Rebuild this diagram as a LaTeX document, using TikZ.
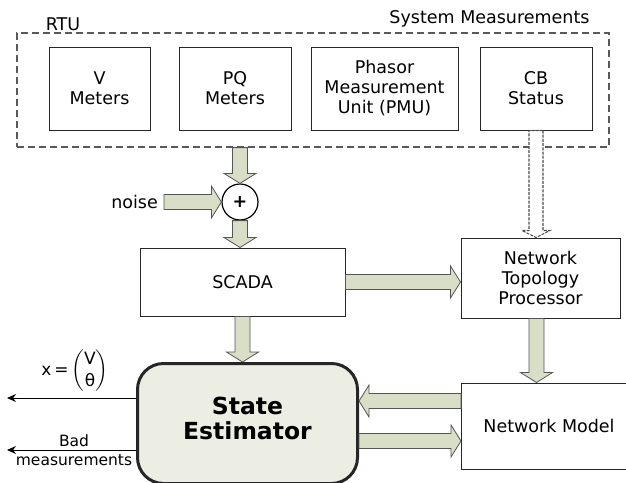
\documentclass[tikz,border=0pt]{standalone}
\usepackage{fontspec}
\usepackage{amsmath}
\setmainfont{DejaVu Sans}
\usetikzlibrary{calc,arrows.meta}
\definecolor{arrfill}{HTML}{D9DEC6}
\definecolor{arrline}{HTML}{555555}
\definecolor{sefill}{HTML}{EDEEE3}
\newcommand{\fatsw}{7.5pt}
\newcommand{\fathw}{16pt}
\newcommand{\fathl}{10pt}
\tikzset{
  box/.style={draw=black!85, line width=1pt, align=center, inner sep=0pt},
  fat/.style={draw=arrline, fill=arrfill, line width=0.8pt,
    to path={let \p3=($(\tikztotarget)!\fathl!(\tikztostart)$) in
      ($(\tikztostart)!\fatsw!90:(\tikztotarget)$) -- ($(\p3)!\fatsw!-90:(\tikztostart)$)
      -- ($(\p3)!\fathw!-90:(\tikztostart)$) -- (\tikztotarget)
      -- ($(\p3)!\fathw!90:(\tikztostart)$) -- ($(\p3)!\fatsw!90:(\tikztostart)$)
      -- ($(\tikztostart)!\fatsw!-90:(\tikztotarget)$) -- cycle}},
  hollow/.style={fat, draw=black!70, line width=1.1pt, fill=white, dash pattern=on 3pt off 1.2pt,
    /utils/exec={\def\fatsw{7pt}\def\fathw{14pt}\def\fathl{7pt}}},
  thin/.style={draw=black, line width=0.9pt, -{Stealth[length=9pt,width=8pt]}},
}
\begin{document}
\begin{tikzpicture}[x=1pt, y=1pt, font=\fontsize{17.5}{20}\selectfont]
  \useasboundingbox (0,0) rectangle (626,-482);
  \clip (0,0) rectangle (626,-482);
  % measurements
  \node[draw=black!65, line width=1.2pt, dash pattern=on 7pt off 4pt, minimum width=592pt, minimum height=114pt] (sys) at (313,-90) {};
  \node (rtu) at (63,-24) {RTU};
  \node (syslabel) at (489.5,-19) {System Measurements};
  \node[box, minimum width=101pt, minimum height=83pt] (vm)  at (99.5,-88.5)  {V\\Meters};
  \node[box, minimum width=112pt, minimum height=83pt] (pq)  at (235,-88.5)   {PQ\\Meters};
  \node[box, minimum width=147pt, minimum height=83pt] (pmu) at (384.5,-88.5) {Phasor\\Measurement\\Unit (PMU)};
  \node[box, minimum width=112pt, minimum height=83pt] (cb)  at (536,-88.5)   {CB\\Status};
  \node[draw, circle, line width=1.2pt, minimum size=36pt, inner sep=0pt] (plus) at (240,-202) {\textbf{+}};
  \node[anchor=east, inner sep=6pt] (noise) at (164,-202) {noise};
  % processing
  \node[box, minimum width=205pt, minimum height=68pt] (scada) at (242.5,-282) {SCADA};
  \node[box, minimum width=159pt, minimum height=80pt] (ntp)   at (540.5,-278) {Network\\Topology\\Processor};
  \node[box, rounded corners=26pt, line width=3pt, fill=sefill, minimum width=220pt, minimum height=120pt,
        font=\fontsize{23.5}{25}\selectfont\bfseries] (se) at (247.5,-423.5) {State\\Estimator\rule[-11pt]{0pt}{0pt}};
  \node[box, anchor=west, minimum width=175pt, minimum height=86pt] (nm) at (461,-426) {Network Model};
  \coordinate (ntpout) at ([xshift=-4pt]ntp.south);
  \coordinate (xend)   at (7,-398);
  \coordinate (badend) at (7,-450);
  % block arrows
  \draw[fat] (plus.north |- sys.south) to (plus.north);
  \draw[fat] (noise.east) to (plus.west);
  \draw[fat] (plus.south) to (plus.south |- scada.north);
  \draw[fat] (scada.east) to (scada.east -| ntp.west);
  \draw[fat] (scada.south) to (scada.south |- se.north);
  \draw[fat] (ntpout) to (ntpout |- nm.north);
  \draw[fat] ([yshift=25pt]nm.west) to ([yshift=25pt]nm.west -| se.east);
  \draw[fat] ([yshift=-15pt]nm.west -| se.east) to ([yshift=-15pt]nm.west);
  \draw[hollow] (cb.south) to (cb.south |- ntp.north);
  % outputs
  \draw[thin] (se.west |- xend) -- (xend);
  \draw[thin] (se.west |- badend) -- (badend);
  \node[font=\fontsize{17}{22}\selectfont] (xlabel) at (75,-371) {x\,=\,$\begin{pmatrix}\text{V}\\ \text{θ}\end{pmatrix}$};
  \node[font=\fontsize{15.5}{19}\selectfont, align=center, inner sep=0pt] (bad) at (74,-450) {Bad\\measurements};
\end{tikzpicture}
\end{document}
